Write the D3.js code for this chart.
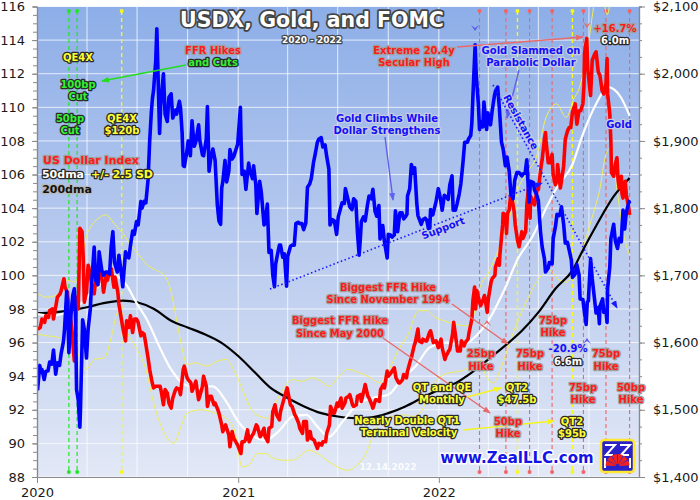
<!DOCTYPE html>
<html>
<head>
<meta charset="utf-8">
<script src="https://cdn.jsdelivr.net/npm/d3@7"></script>
<style>
  body { margin: 0; background: #fff; }
  svg text { font-family: "DejaVu Sans", Verdana, sans-serif; }
  .lbl { font-weight: bold; paint-order: stroke; stroke-linejoin: round; text-anchor: middle; }
</style>
</head>
<body>
<svg id="chart" width="700" height="500"></svg>
<script>
// ---- data ----
var usdx = [
 ["2020-01-02",96.8],["2020-01-07",96.9],["2020-01-10",97.4],["2020-01-15",97.2],["2020-01-17",97.6],["2020-01-22",97.5],
 ["2020-01-24",97.9],["2020-01-29",98.0],["2020-01-31",97.4],["2020-02-05",98.3],["2020-02-07",98.7],["2020-02-12",98.9],
 ["2020-02-14",99.1],["2020-02-19",99.8],["2020-02-21",99.3],["2020-02-25",99.0],["2020-02-28",98.1],["2020-03-03",97.2],
 ["2020-03-06",96.0],["2020-03-09",94.9],["2020-03-11",96.5],["2020-03-13",98.7],["2020-03-16",98.0],["2020-03-18",101.0],
 ["2020-03-19",102.8],["2020-03-23",102.6],["2020-03-25",101.1],["2020-03-27",98.4],["2020-03-31",99.0],["2020-04-03",100.6],
 ["2020-04-07",100.1],["2020-04-09",99.5],["2020-04-14",98.9],["2020-04-17",99.7],["2020-04-21",100.2],["2020-04-24",100.4],
 ["2020-04-29",99.6],["2020-05-01",99.0],["2020-05-06",100.0],["2020-05-08",99.7],["2020-05-13",100.3],["2020-05-15",100.4],
 ["2020-05-20",99.3],["2020-05-22",99.9],["2020-05-27",99.0],["2020-05-29",98.3],["2020-06-03",97.3],["2020-06-05",96.9],
 ["2020-06-10",96.1],["2020-06-12",97.3],["2020-06-16",96.9],["2020-06-19",97.6],["2020-06-23",96.6],["2020-06-26",97.4],
 ["2020-06-30",97.4],["2020-07-03",97.2],["2020-07-08",96.4],["2020-07-10",96.6],["2020-07-14",96.5],["2020-07-17",95.9],
 ["2020-07-21",95.1],["2020-07-24",94.4],["2020-07-28",93.7],["2020-07-31",93.3],["2020-08-04",93.4],["2020-08-07",93.4],
 ["2020-08-12",93.4],["2020-08-14",93.1],["2020-08-18",92.3],["2020-08-21",93.2],["2020-08-25",93.0],["2020-08-28",92.4],
 ["2020-09-01",92.1],["2020-09-04",92.7],["2020-09-09",93.2],["2020-09-11",93.3],["2020-09-16",93.2],["2020-09-18",92.9],
 ["2020-09-23",94.4],["2020-09-25",94.6],["2020-09-30",93.9],["2020-10-02",93.8],["2020-10-07",93.6],["2020-10-09",93.1],
 ["2020-10-14",93.5],["2020-10-16",93.7],["2020-10-21",92.6],["2020-10-23",92.8],["2020-10-28",93.4],["2020-10-30",94.0],
 ["2020-11-04",93.4],["2020-11-06",92.2],["2020-11-10",92.8],["2020-11-13",92.8],["2020-11-18",92.3],["2020-11-20",92.4],
 ["2020-11-25",92.0],["2020-11-27",91.8],["2020-12-02",91.1],["2020-12-04",90.7],["2020-12-09",91.1],["2020-12-11",90.9],
 ["2020-12-15",90.5],["2020-12-17",89.8],["2020-12-21",90.7],["2020-12-24",90.3],["2020-12-31",89.9],["2021-01-06",89.4],
 ["2021-01-08",90.1],["2021-01-12",90.1],["2021-01-14",90.2],["2021-01-18",90.8],["2021-01-21",90.1],["2021-01-25",90.4],
 ["2021-01-29",90.6],["2021-02-03",91.1],["2021-02-05",91.0],["2021-02-10",90.4],["2021-02-12",90.5],["2021-02-17",90.9],
 ["2021-02-19",90.4],["2021-02-24",90.1],["2021-02-26",90.9],["2021-03-03",91.0],["2021-03-05",91.9],["2021-03-09",92.3],
 ["2021-03-12",91.7],["2021-03-17",91.4],["2021-03-19",91.9],["2021-03-24",92.5],["2021-03-31",93.3],["2021-04-06",92.3],
 ["2021-04-09",92.2],["2021-04-14",91.7],["2021-04-16",91.6],["2021-04-21",91.2],["2021-04-23",90.9],["2021-04-28",90.6],
 ["2021-04-30",91.3],["2021-05-05",91.3],["2021-05-07",90.2],["2021-05-12",90.7],["2021-05-14",90.3],["2021-05-19",90.2],
 ["2021-05-25",89.7],["2021-05-28",90.0],["2021-06-02",89.9],["2021-06-04",90.1],["2021-06-09",90.1],["2021-06-11",90.6],
 ["2021-06-16",91.1],["2021-06-18",92.2],["2021-06-23",91.8],["2021-06-25",91.8],["2021-06-30",92.4],["2021-07-02",92.2],
 ["2021-07-07",92.7],["2021-07-09",92.1],["2021-07-14",92.4],["2021-07-16",92.7],["2021-07-21",92.8],["2021-07-23",92.9],
 ["2021-07-28",92.3],["2021-07-30",92.2],["2021-08-04",92.3],["2021-08-06",92.8],["2021-08-11",92.9],["2021-08-13",92.5],
 ["2021-08-18",93.2],["2021-08-20",93.5],["2021-08-25",92.8],["2021-08-27",92.7],["2021-09-01",92.3],["2021-09-03",92.1],
 ["2021-09-08",92.6],["2021-09-10",92.6],["2021-09-15",92.5],["2021-09-17",93.2],["2021-09-22",93.5],["2021-09-24",93.3],
 ["2021-09-29",94.3],["2021-10-01",94.0],["2021-10-06",94.2],["2021-10-12",94.5],["2021-10-15",93.9],["2021-10-20",93.6],
 ["2021-10-22",93.6],["2021-10-27",93.8],["2021-10-29",94.1],["2021-11-03",93.9],["2021-11-05",94.3],["2021-11-10",94.9],
 ["2021-11-12",95.1],["2021-11-17",95.8],["2021-11-19",96.0],["2021-11-24",96.8],["2021-11-26",96.1],["2021-12-01",96.0],
 ["2021-12-03",96.2],["2021-12-08",96.1],["2021-12-10",96.1],["2021-12-15",96.6],["2021-12-17",96.7],["2021-12-22",96.0],
 ["2021-12-27",96.1],["2021-12-31",95.7],["2022-01-05",96.2],["2022-01-07",95.7],["2022-01-12",95.0],["2022-01-14",95.2],
 ["2022-01-19",95.5],["2022-01-21",95.6],["2022-01-26",96.5],["2022-01-28",97.2],["2022-02-02",96.0],["2022-02-04",95.5],
 ["2022-02-09",95.5],["2022-02-11",96.1],["2022-02-16",95.8],["2022-02-18",96.0],["2022-02-23",96.2],["2022-02-25",96.6],
 ["2022-03-02",97.4],["2022-03-04",98.5],["2022-03-07",99.3],["2022-03-09",98.0],["2022-03-11",99.1],["2022-03-16",98.4],
 ["2022-03-18",98.2],["2022-03-23",98.6],["2022-03-25",98.8],["2022-03-30",97.8],["2022-04-01",98.6],["2022-04-06",99.6],
 ["2022-04-08",99.8],["2022-04-13",100.0],["2022-04-14",100.5],["2022-04-19",101.0],["2022-04-21",100.6],["2022-04-22",101.2],
 ["2022-04-27",103.0],["2022-04-28",103.7],["2022-05-03",103.5],["2022-05-04",102.5],["2022-05-06",103.7],["2022-05-09",103.9],
 ["2022-05-12",104.9],["2022-05-16",104.2],["2022-05-18",103.8],["2022-05-20",103.0],["2022-05-24",102.1],["2022-05-27",101.7],
 ["2022-06-01",102.6],["2022-06-03",102.2],["2022-06-08",102.6],["2022-06-10",104.2],["2022-06-14",105.5],["2022-06-16",103.4],
 ["2022-06-17",104.7],["2022-06-22",104.3],["2022-06-24",104.2],["2022-06-29",105.1],["2022-07-01",105.1],["2022-07-06",106.5],
 ["2022-07-08",106.9],["2022-07-12",108.1],["2022-07-14",108.5],["2022-07-15",108.0],["2022-07-19",106.7],["2022-07-22",106.7],
 ["2022-07-26",107.2],["2022-07-28",106.0],["2022-08-01",105.4],["2022-08-04",105.7],["2022-08-05",106.6],["2022-08-10",105.2],
 ["2022-08-12",105.6],["2022-08-16",106.5],["2022-08-19",108.1],["2022-08-23",108.6],["2022-08-26",108.8],["2022-08-29",108.8],
 ["2022-09-01",109.7],["2022-09-06",110.2],["2022-09-09",109.0],["2022-09-13",109.8],["2022-09-16",109.8],["2022-09-20",110.2],
 ["2022-09-22",111.3],["2022-09-23",113.2],["2022-09-27",114.1],["2022-09-29",112.2],["2022-10-04",110.7],["2022-10-07",112.8],
 ["2022-10-12",113.2],["2022-10-14",113.3],["2022-10-18",112.1],["2022-10-21",111.9],["2022-10-25",111.0],["2022-10-28",110.8],
 ["2022-11-01",111.4],["2022-11-03",112.9],["2022-11-04",110.8],["2022-11-08",109.6],["2022-11-10",107.9],["2022-11-11",106.1],
 ["2022-11-15",105.9],["2022-11-18",106.6],["2022-11-21",107.0],["2022-11-23",105.7],["2022-11-25",105.2],["2022-11-29",105.9],
 ["2022-11-30",104.9],["2022-12-02",104.6],["2022-12-06",105.6],["2022-12-08",104.8],["2022-12-13",103.9],["2022-12-14",103.6]
];

var gold = [
 ["2020-01-02",1529],["2020-01-06",1566],["2020-01-08",1556],["2020-01-10",1560],["2020-01-14",1545],["2020-01-17",1557],
 ["2020-01-21",1558],["2020-01-24",1571],["2020-01-28",1568],["2020-01-31",1589],["2020-02-04",1553],["2020-02-07",1570],
 ["2020-02-11",1566],["2020-02-14",1584],["2020-02-18",1601],["2020-02-20",1619],["2020-02-24",1676],["2020-02-26",1641],
 ["2020-02-28",1585],["2020-03-03",1643],["2020-03-06",1670],["2020-03-09",1680],["2020-03-11",1638],["2020-03-13",1530],
 ["2020-03-16",1515],["2020-03-19",1474],["2020-03-20",1498],["2020-03-24",1634],["2020-03-27",1620],["2020-03-31",1577],
 ["2020-04-03",1620],["2020-04-07",1650],["2020-04-09",1683],["2020-04-14",1742],["2020-04-17",1692],["2020-04-21",1686],
 ["2020-04-23",1735],["2020-04-28",1707],["2020-05-01",1700],["2020-05-05",1705],["2020-05-08",1705],["2020-05-12",1702],
 ["2020-05-15",1743],["2020-05-18",1765],["2020-05-21",1719],["2020-05-26",1705],["2020-05-29",1730],["2020-06-03",1699],
 ["2020-06-05",1683],["2020-06-10",1735],["2020-06-12",1730],["2020-06-16",1726],["2020-06-19",1744],["2020-06-23",1766],
 ["2020-06-26",1761],["2020-06-30",1780],["2020-07-03",1775],["2020-07-08",1810],["2020-07-10",1800],["2020-07-14",1810],
 ["2020-07-17",1808],["2020-07-21",1842],["2020-07-24",1900],["2020-07-27",1943],["2020-07-29",1963],["2020-07-31",1975],
 ["2020-08-04",2019],["2020-08-06",2067],["2020-08-07",2035],["2020-08-11",1911],["2020-08-13",1953],["2020-08-18",2000],
 ["2020-08-21",1940],["2020-08-25",1929],["2020-08-28",1965],["2020-09-01",1970],["2020-09-04",1934],["2020-09-09",1946],
 ["2020-09-11",1940],["2020-09-16",1959],["2020-09-18",1950],["2020-09-21",1912],["2020-09-23",1863],["2020-09-25",1862],
 ["2020-09-30",1886],["2020-10-02",1900],["2020-10-06",1878],["2020-10-09",1930],["2020-10-13",1892],["2020-10-16",1899],
 ["2020-10-21",1924],["2020-10-23",1902],["2020-10-28",1879],["2020-10-30",1878],["2020-11-04",1903],["2020-11-06",1951],
 ["2020-11-09",1855],["2020-11-12",1873],["2020-11-16",1888],["2020-11-20",1871],["2020-11-24",1805],["2020-11-27",1781],
 ["2020-11-30",1776],["2020-12-02",1830],["2020-12-04",1839],["2020-12-08",1871],["2020-12-11",1839],["2020-12-15",1855],
 ["2020-12-17",1887],["2020-12-21",1873],["2020-12-24",1877],["2020-12-31",1895],["2021-01-05",1950],["2021-01-06",1908],
 ["2021-01-08",1850],["2021-01-12",1855],["2021-01-15",1828],["2021-01-20",1867],["2021-01-22",1856],["2021-01-27",1844],
 ["2021-01-29",1863],["2021-02-02",1835],["2021-02-04",1792],["2021-02-09",1840],["2021-02-12",1824],["2021-02-17",1775],
 ["2021-02-19",1777],["2021-02-23",1806],["2021-02-26",1734],["2021-03-02",1737],["2021-03-05",1700],["2021-03-08",1683],
 ["2021-03-10",1716],["2021-03-12",1725],["2021-03-17",1745],["2021-03-19",1745],["2021-03-23",1727],["2021-03-26",1732],
 ["2021-03-30",1684],["2021-04-01",1728],["2021-04-06",1743],["2021-04-09",1745],["2021-04-13",1745],["2021-04-16",1777],
 ["2021-04-20",1779],["2021-04-23",1777],["2021-04-27",1777],["2021-04-30",1768],["2021-05-04",1778],["2021-05-07",1831],
 ["2021-05-11",1836],["2021-05-14",1844],["2021-05-18",1868],["2021-05-21",1880],["2021-05-25",1898],["2021-05-28",1903],
 ["2021-06-01",1905],["2021-06-04",1891],["2021-06-08",1894],["2021-06-11",1877],["2021-06-15",1858],["2021-06-17",1775],
 ["2021-06-21",1783],["2021-06-25",1781],["2021-06-29",1761],["2021-07-02",1787],["2021-07-07",1802],["2021-07-09",1808],
 ["2021-07-13",1807],["2021-07-15",1829],["2021-07-20",1812],["2021-07-23",1802],["2021-07-27",1798],["2021-07-30",1814],
 ["2021-08-03",1810],["2021-08-06",1763],["2021-08-09",1730],["2021-08-11",1752],["2021-08-13",1780],["2021-08-17",1787],
 ["2021-08-20",1781],["2021-08-24",1804],["2021-08-27",1818],["2021-08-31",1814],["2021-09-03",1828],["2021-09-07",1795],
 ["2021-09-10",1788],["2021-09-14",1804],["2021-09-16",1754],["2021-09-21",1774],["2021-09-24",1750],["2021-09-29",1726],
 ["2021-10-01",1761],["2021-10-05",1760],["2021-10-08",1757],["2021-10-12",1760],["2021-10-14",1796],["2021-10-18",1765],
 ["2021-10-22",1793],["2021-10-26",1793],["2021-10-29",1784],["2021-11-02",1788],["2021-11-04",1791],["2021-11-05",1818],
 ["2021-11-09",1829],["2021-11-12",1865],["2021-11-16",1852],["2021-11-18",1860],["2021-11-22",1806],["2021-11-24",1789],
 ["2021-11-30",1776],["2021-12-03",1783],["2021-12-07",1785],["2021-12-10",1782],["2021-12-15",1763],["2021-12-17",1798],
 ["2021-12-21",1790],["2021-12-27",1810],["2021-12-31",1829],["2022-01-04",1814],["2022-01-07",1797],["2022-01-11",1819],
 ["2022-01-14",1817],["2022-01-18",1813],["2022-01-21",1835],["2022-01-25",1848],["2022-01-27",1797],["2022-01-31",1797],
 ["2022-02-03",1806],["2022-02-07",1821],["2022-02-10",1836],["2022-02-14",1869],["2022-02-17",1898],["2022-02-22",1898],
 ["2022-02-24",1903],["2022-02-28",1908],["2022-03-02",1926],["2022-03-04",1967],["2022-03-08",2043],["2022-03-10",1998],
 ["2022-03-14",1954],["2022-03-16",1917],["2022-03-18",1929],["2022-03-22",1921],["2022-03-24",1958],["2022-03-29",1917],
 ["2022-03-31",1942],["2022-04-05",1924],["2022-04-08",1945],["2022-04-12",1967],["2022-04-14",1974],["2022-04-18",1980],
 ["2022-04-21",1950],["2022-04-25",1898],["2022-04-28",1888],["2022-05-02",1863],["2022-05-05",1876],["2022-05-09",1855],
 ["2022-05-12",1822],["2022-05-16",1814],["2022-05-19",1841],["2022-05-23",1853],["2022-05-27",1853],["2022-06-01",1848],
 ["2022-06-03",1851],["2022-06-07",1852],["2022-06-10",1872],["2022-06-14",1809],["2022-06-17",1840],["2022-06-22",1838],
 ["2022-06-24",1827],["2022-06-28",1820],["2022-07-01",1811],["2022-07-05",1764],["2022-07-08",1742],["2022-07-12",1725],
 ["2022-07-14",1705],["2022-07-19",1711],["2022-07-21",1719],["2022-07-26",1717],["2022-07-28",1755],["2022-08-01",1772],
 ["2022-08-04",1791],["2022-08-08",1789],["2022-08-10",1793],["2022-08-12",1802],["2022-08-16",1776],["2022-08-19",1748],
 ["2022-08-23",1749],["2022-08-26",1738],["2022-08-30",1723],["2022-09-01",1697],["2022-09-06",1702],["2022-09-09",1716],
 ["2022-09-13",1701],["2022-09-15",1665],["2022-09-20",1664],["2022-09-23",1644],["2022-09-26",1627],["2022-09-28",1660],
 ["2022-09-30",1662],["2022-10-04",1725],["2022-10-07",1695],["2022-10-11",1666],["2022-10-14",1644],["2022-10-18",1652],
 ["2022-10-20",1628],["2022-10-21",1654],["2022-10-26",1665],["2022-10-28",1645],["2022-11-01",1648],["2022-11-03",1630],
 ["2022-11-04",1681],["2022-11-08",1713],["2022-11-10",1755],["2022-11-15",1776],["2022-11-18",1751],["2022-11-22",1740],
 ["2022-11-25",1755],["2022-11-29",1750],["2022-11-30",1768],["2022-12-02",1797],["2022-12-05",1769],["2022-12-07",1786],
 ["2022-12-09",1797],["2022-12-13",1810],["2022-12-14",1807]
];

var usdx50 = [
 ["2020-01-02",97.7],["2020-02-01",97.6],["2020-03-01",97.9],["2020-03-20",98.3],["2020-04-10",99.0],["2020-05-01",99.6],
 ["2020-05-20",100.0],["2020-06-10",99.5],["2020-07-01",98.3],["2020-07-20",97.3],["2020-08-10",95.8],["2020-09-01",94.4],
 ["2020-09-25",93.5],["2020-10-20",93.3],["2020-11-15",93.4],["2020-12-10",92.5],["2021-01-01",91.3],["2021-01-25",90.5],
 ["2021-02-20",90.2],["2021-03-15",90.7],["2021-04-10",91.6],["2021-05-05",91.7],["2021-05-25",91.0],["2021-06-15",90.4],
 ["2021-07-10",91.3],["2021-08-05",92.3],["2021-09-01",92.7],["2021-10-01",92.9],["2021-10-25",93.8],["2021-11-20",94.6],
 ["2021-12-15",95.7],["2022-01-15",96.0],["2022-02-15",95.9],["2022-03-10",96.4],["2022-04-01",97.3],["2022-05-01",99.2],
 ["2022-05-25",101.0],["2022-06-20",102.3],["2022-07-15",104.0],["2022-08-05",105.3],["2022-09-01",106.6],["2022-09-20",108.4],
 ["2022-10-14",110.2],["2022-11-05",111.2],["2022-11-28",110.6],["2022-12-14",109.5]
];

var usdx200 = [
 ["2020-01-02",97.75],["2020-02-01",97.8],["2020-03-01",97.9],["2020-04-01",98.1],["2020-05-01",98.35],["2020-06-05",98.5],
 ["2020-07-01",98.4],["2020-08-01",98.0],["2020-09-01",97.3],["2020-10-01",96.9],["2020-11-01",96.5],["2020-12-01",96.0],
 ["2021-01-01",95.2],["2021-02-01",94.2],["2021-03-01",93.3],["2021-04-01",92.7],["2021-05-01",92.2],["2021-06-01",91.8],
 ["2021-07-01",91.6],["2021-08-01",91.5],["2021-09-01",91.55],["2021-10-01",91.8],["2021-11-01",92.2],["2021-12-01",92.7],
 ["2022-01-01",93.2],["2022-02-01",93.6],["2022-03-01",94.2],["2022-04-01",95.0],["2022-05-01",95.8],["2022-06-01",96.7],
 ["2022-07-01",97.8],["2022-08-01",99.2],["2022-09-01",100.3],["2022-09-20",101.5],["2022-10-15",103.0],["2022-11-15",104.7],
 ["2022-12-14",105.8]
];

var upperBand = [
 ["2020-01-02",98.9],["2020-01-20",98.7],["2020-02-10",98.9],["2020-02-25",99.7],["2020-03-10",99.6],["2020-03-20",100.5],
 ["2020-03-30",102.2],["2020-04-10",103.0],["2020-04-22",103.4],["2020-05-05",103.6],["2020-05-20",103.1],["2020-06-05",102.5],
 ["2020-06-20",101.8],["2020-07-05",101.2],["2020-07-20",100.6],["2020-08-05",100.3],["2020-08-20",100.0],["2020-09-01",99.0],
 ["2020-09-10",97.5],["2020-09-20",95.8],["2020-09-30",94.7],["2020-10-15",94.8],["2020-11-05",94.6],["2020-11-25",94.9],
 ["2020-12-10",95.0],["2020-12-25",94.3],["2021-01-10",93.1],["2021-01-25",92.0],["2021-02-10",91.6],["2021-02-25",91.5],
 ["2021-03-10",92.4],["2021-03-25",93.3],["2021-04-10",93.8],["2021-04-28",93.7],["2021-05-15",93.9],["2021-06-01",93.7],
 ["2021-06-15",93.4],["2021-07-01",93.9],["2021-07-20",94.4],["2021-08-10",94.2],["2021-08-30",93.9],["2021-09-15",93.6],
 ["2021-10-01",94.3],["2021-10-20",95.6],["2021-11-05",96.4],["2021-11-25",97.9],["2021-12-10",97.9],["2021-12-25",97.5],
 ["2022-01-10",97.3],["2022-01-31",97.1],["2022-02-20",97.0],["2022-03-05",97.6],["2022-03-16",99.2],["2022-04-02",100.2],
 ["2022-04-20",101.6],["2022-05-08",103.3],["2022-05-27",105.3],["2022-06-12",106.2],["2022-06-27",107.0],["2022-07-15",109.4],
 ["2022-08-03",110.2],["2022-08-21",109.4],["2022-09-02",110.4],["2022-09-14",111.2],["2022-09-24",112.6],["2022-10-01",114.0],
 ["2022-10-12",116.4],["2022-10-20",117.0],["2022-10-28",116.3],["2022-11-03",115.5],["2022-11-12",116.8],["2022-11-25",118.0],
 ["2022-12-14",118.5]
];

var lowerBand = [
 ["2020-01-02",96.5],["2020-01-20",96.4],["2020-02-10",96.3],["2020-02-25",96.0],["2020-03-10",95.7],["2020-03-20",95.0],
 ["2020-03-30",94.4],["2020-04-15",95.0],["2020-05-03",95.1],["2020-05-15",96.3],["2020-05-27",97.8],["2020-06-05",97.3],
 ["2020-06-13",96.6],["2020-07-01",95.6],["2020-07-17",94.4],["2020-08-01",92.3],["2020-08-20",90.6],["2020-09-06",90.0],
 ["2020-09-18",90.9],["2020-09-30",91.8],["2020-10-25",92.0],["2020-11-20",91.8],["2020-12-10",91.5],["2020-12-25",90.8],
 ["2021-01-08",88.6],["2021-01-20",88.7],["2021-02-05",89.4],["2021-02-20",89.4],["2021-03-07",89.1],["2021-03-25",89.0],
 ["2021-04-10",89.0],["2021-05-10",89.6],["2021-05-25",89.4],["2021-06-20",88.8],["2021-07-20",88.4],["2021-08-05",88.7],
 ["2021-08-20",89.3],["2021-09-05",90.6],["2021-09-20",91.4],["2021-10-10",91.6],["2021-10-30",91.7],["2021-11-15",91.6],
 ["2021-11-30",91.9],["2021-12-15",93.0],["2022-01-01",93.9],["2022-01-20",94.2],["2022-02-10",94.3],["2022-03-01",94.6],
 ["2022-03-16",95.0],["2022-03-28",94.0],["2022-04-10",93.6],["2022-04-25",94.6],["2022-05-10",96.0],["2022-05-25",97.3],
 ["2022-06-10",98.5],["2022-07-04",99.9],["2022-07-22",100.3],["2022-08-05",99.8],["2022-08-21",99.6],["2022-09-05",100.4],
 ["2022-09-20",101.6],["2022-09-30",102.7],["2022-10-10",103.8],["2022-10-20",105.0],["2022-11-01",107.2],["2022-11-10",107.6],
 ["2022-11-20",105.4],["2022-12-01",102.8],["2022-12-14",101.2]
];

// FOMC and QE events
var cutDates = ["2020-02-28", "2020-03-14"];
var qeDates = ["2020-06-03", "2022-05-24", "2022-09-01"];
var hikeDates = ["2022-03-16", "2022-05-03", "2022-06-15", "2022-07-26", "2022-09-21", "2022-11-01", "2022-12-14"];

var leftTicks = d3.range(88, 117, 2);
var rightTicks = d3.range(1400, 2101, 100);
var yearTicks = ["2020-01-01", "2021-01-01", "2022-01-01"];

// ---- chart ----
var parse = d3.timeParse("%Y-%m-%d");
function pts(arr) { return arr.map(function(d) { return {date: parse(d[0]), v: d[1]}; }); }

var L = 37, R = 639, T = 6.5, B = 477;
var svg = d3.select("#chart");
var x = d3.scaleTime().domain([parse("2020-01-01"), parse("2023-01-01")]).range([L, R + 0.5]);
var yL = d3.scaleLinear().domain([88, 116]).range([B, T]);
var yR = d3.scaleLinear().domain([1400, 2100]).range([B, T]);

var defs = svg.append("defs");
var grad = defs.append("linearGradient").attr("id", "bg").attr("x1", 0).attr("y1", 0).attr("x2", 0).attr("y2", 1);
grad.append("stop").attr("offset", "0%").attr("stop-color", "#8daee8");
grad.append("stop").attr("offset", "50%").attr("stop-color", "#b8caee");
grad.append("stop").attr("offset", "100%").attr("stop-color", "#e2e8f6");
defs.append("clipPath").attr("id", "plot").append("rect")
  .attr("x", L).attr("y", T).attr("width", R - L).attr("height", B - T);

function arrowMarker(id, color) {
  defs.append("marker").attr("id", id).attr("viewBox", "0 0 8 6")
    .attr("refX", 7).attr("refY", 3).attr("markerWidth", 8).attr("markerHeight", 6)
    .attr("markerUnits", "userSpaceOnUse").attr("orient", "auto")
    .append("path").attr("d", "M0,0 L8,3 L0,6 Z").attr("fill", color);
}
arrowMarker("aGreen", "#22dd22");
arrowMarker("aRed", "#e86a6a");
arrowMarker("aBlue", "#6060f0");
arrowMarker("aBlueD", "#1a1aff");
arrowMarker("aYellow", "#f4f420");

svg.append("rect").attr("x", L).attr("y", T).attr("width", R - L).attr("height", B - T).attr("fill", "url(#bg)");

// grid
var grid = svg.append("g").attr("stroke", "#ffffff").attr("stroke-opacity", 0.75).attr("stroke-width", 1);
grid.selectAll("line.h").data(leftTicks).enter().append("line")
  .attr("x1", L).attr("x2", R).attr("y1", function(d) { return yL(d); }).attr("y2", function(d) { return yL(d); });
var quarters = d3.timeMonth.every(3).range(parse("2020-04-01"), parse("2023-01-01"));
grid.selectAll("line.v").data(quarters).enter().append("line")
  .attr("y1", T).attr("y2", B).attr("x1", function(d) { return x(d); }).attr("x2", function(d) { return x(d); });

// event lines
function eventLines(dates, color, width) {
  var g = svg.append("g");
  dates.forEach(function(ds) {
    var xx = x(parse(ds));
    g.append("line").attr("x1", xx).attr("x2", xx).attr("y1", 11).attr("y2", 472)
      .attr("stroke", color).attr("stroke-width", width).attr("stroke-dasharray", "4,3");
    g.append("circle").attr("cx", xx).attr("cy", 11).attr("r", 2).attr("fill", color);
    g.append("circle").attr("cx", xx).attr("cy", 472).attr("r", 2).attr("fill", color);
  });
}
eventLines(hikeDates, "#f26464", 1.1);
eventLines(cutDates, "#22e822", 1.2);
eventLines(qeDates, "#f8f820", 1.4);

// series
var plot = svg.append("g").attr("clip-path", "url(#plot)");
var lineL = d3.line().x(function(d) { return x(d.date); }).y(function(d) { return yL(d.v); });
var smoothL = d3.line().curve(d3.curveMonotoneX).x(function(d) { return x(d.date); }).y(function(d) { return yL(d.v); });
var lineR = d3.line().x(function(d) { return x(d.date); }).y(function(d) { return yR(d.v); });

plot.append("path").datum(pts(upperBand)).attr("d", smoothL).attr("fill", "none").attr("stroke", "#f0ee5a").attr("stroke-width", 1);
plot.append("path").datum(pts(lowerBand)).attr("d", smoothL).attr("fill", "none").attr("stroke", "#f0ee5a").attr("stroke-width", 1);
plot.append("path").datum(pts(usdx200)).attr("d", smoothL).attr("fill", "none").attr("stroke", "#000").attr("stroke-width", 2.2);
plot.append("path").datum(pts(usdx50)).attr("d", smoothL).attr("fill", "none").attr("stroke", "#fff").attr("stroke-width", 2.2);
plot.append("path").datum(pts(usdx)).attr("d", lineL).attr("fill", "none").attr("stroke", "#ff0000")
  .attr("stroke-width", 3.6).attr("stroke-linejoin", "round");
plot.append("path").datum(pts(gold)).attr("d", lineR).attr("fill", "none").attr("stroke", "#0000ff")
  .attr("stroke-width", 3.6).attr("stroke-linejoin", "round");

// axes
function styleAxis(g) {
  g.select(".domain").attr("stroke", "#8a8a8a").attr("stroke-width", 1.2);
  g.selectAll(".tick line").attr("stroke", "#8a8a8a");
  g.selectAll("text").attr("font-family", "DejaVu Sans, Verdana, sans-serif").attr("font-size", 13).attr("fill", "#1a1a1a");
}
var minorL = svg.append("g").attr("transform", "translate(" + L + ",0)")
  .call(d3.axisLeft(yL).tickValues(d3.range(88, 116.01, 0.5)).tickSize(4).tickFormat(""));
styleAxis(minorL);
var axL = svg.append("g").attr("transform", "translate(" + L + ",0)")
  .call(d3.axisLeft(yL).tickValues(leftTicks).tickSize(5).tickPadding(7).tickSizeOuter(0));
styleAxis(axL);
var minorR = svg.append("g").attr("transform", "translate(" + R + ",0)")
  .call(d3.axisRight(yR).tickValues(d3.range(1400, 2100.01, 25)).tickSize(3).tickFormat(""));
styleAxis(minorR);
var axR = svg.append("g").attr("transform", "translate(" + R + ",0)")
  .call(d3.axisRight(yR).tickValues(rightTicks).tickSize(6).tickPadding(8).tickSizeOuter(0)
    .tickFormat(function(d) { return "$" + d3.format(",")(d); }));
styleAxis(axR);
var axB = svg.append("g").attr("transform", "translate(0," + B + ")")
  .call(d3.axisBottom(x).tickValues(yearTicks.map(parse)).tickSize(6).tickPadding(5).tickSizeOuter(0)
    .tickFormat(d3.timeFormat("%Y")));
styleAxis(axB);

// trend lines
function dotted(x1, y1, x2, y2) {
  svg.append("line").attr("x1", x1).attr("y1", y1).attr("x2", x2).attr("y2", y2)
    .attr("stroke", "#1a1aff").attr("stroke-width", 1.6).attr("stroke-dasharray", "1.5,2.5")
    .attr("marker-end", "url(#aBlueD)");
}
dotted(270, 289, 542, 183);
dotted(493, 85, 617, 308);

// annotation arrows
function arrow(x1, y1, x2, y2, color, marker) {
  svg.append("line").attr("x1", x1).attr("y1", y1).attr("x2", x2).attr("y2", y2)
    .attr("stroke", color).attr("stroke-width", 1.4).attr("marker-end", "url(#" + marker + ")");
}
arrow(186, 65, 102, 81, "#22dd22", "aGreen");
arrow(457, 47, 583, 37, "#e86a6a", "aRed");
arrow(519, 70, 507, 118, "#6060f0", "aBlue");
arrow(385, 137, 393, 200, "#6060f0", "aBlue");
arrow(452, 304, 508, 344, "#e86a6a", "aRed");
arrow(383, 338, 490, 413, "#e86a6a", "aRed");
arrow(467, 397, 501, 388, "#f4f420", "aYellow");
arrow(463, 430, 554, 421, "#f4f420", "aYellow");

// peak / trough markers
function chevron(cx, cy, color, up) {
  var s = up ? -1 : 1;
  svg.append("path").attr("d", "M" + (cx - 4) + "," + (cy - 5 * s) + " L" + cx + "," + (cy + 1 * s) +
    " L" + (cx + 4) + "," + (cy - 5 * s) + " L" + cx + "," + (cy - 2 * s) + " Z").attr("fill", color);
}
chevron(475, 30, "#5a5aee", false);
chevron(587, 27, "#e86a6a", false);
chevron(487, 321, "#e86a6a", true);
chevron(587, 339, "#5a5aee", true);

// text labels
var styles = {
  red:    {fill: "#ff1a1a", stroke: "#a0a0a0"},
  blue:   {fill: "#1010ff", stroke: "#c8cce0"},
  green:  {fill: "#33f033", stroke: "#2a2a2a"},
  yellow: {fill: "#ffff30", stroke: "#2a2a2a"},
  white:  {fill: "#ffffff", stroke: "#2a2a2a"},
  black:  {fill: "#111111", stroke: "#b8b8b8"}
};
function label(cx, cy, txt, kind, size) {
  var st = styles[kind];
  svg.append("text").attr("class", "lbl").attr("x", cx).attr("y", cy).attr("dy", "0.36em")
    .attr("font-size", size || 10).attr("fill", st.fill).attr("stroke", st.stroke).attr("stroke-width", 2.6)
    .text(txt);
}
var labels = [
  [78, 57, "QE4X", "yellow"], [78, 84, "100bp", "green"], [78, 96, "Cut", "green"],
  [70, 118, "50bp", "green"], [70, 130, "Cut", "green"], [122, 118, "QE4X", "yellow"], [122, 130, "$120b", "yellow"],
  [213, 50, "FFR Hikes", "red"], [213, 62, "and Cuts", "green"],
  [414, 50, "Extreme 20.4y", "red"], [414, 62, "Secular High", "red"],
  [531, 50, "Gold Slammed on", "blue"], [531, 62, "Parabolic Dollar", "blue"],
  [615, 28, "+16.7%", "red"], [615, 40, "6.0m", "white"],
  [387, 118, "Gold Climbs While", "blue"], [387, 130, "Dollar Strengthens", "blue"],
  [619, 124, "Gold", "blue"],
  [388, 287, "Biggest FFR Hike", "red"], [388, 299, "Since November 1994", "red"],
  [340, 320, "Biggest FFR Hike", "red"], [340, 333, "Since May 2000", "red"],
  [481, 353, "25bp", "red"], [481, 366, "Hike", "red"],
  [530, 353, "75bp", "red"], [530, 366, "Hike", "red"],
  [553, 320, "75bp", "red"], [553, 332, "Hike", "red"],
  [568, 348, "-20.9%", "blue"], [568, 361, "6.6m", "white"],
  [606, 353, "75bp", "red"], [606, 366, "Hike", "red"],
  [583, 387, "75bp", "red"], [583, 399, "Hike", "red"],
  [631, 387, "50bp", "red"], [631, 399, "Hike", "red"],
  [442, 387, "QT and QE", "yellow"], [442, 399, "Monthly", "yellow"],
  [517, 387, "QT2", "yellow"], [517, 399, "$47.5b", "yellow"],
  [508, 421, "50bp", "red"], [508, 433, "Hike", "red"],
  [407, 420, "Nearly Double QT1", "yellow"], [409, 432, "Terminal Velocity", "yellow"],
  [572, 421, "QT2", "yellow"], [572, 433, "$95b", "yellow"]
];
labels.forEach(function(l) { label(l[0], l[1], l[2], l[3]); });

// legend
label(91, 160, "US Dollar Index", "red", 11);
label(63, 174, "50dma", "white", 11);
label(122, 174, "+/- 2.5 SD", "yellow", 11);
label(67, 189, "200dma", "black", 11);

// rotated trend labels
svg.append("text").attr("class", "lbl").attr("transform", "translate(521,122) rotate(61)").attr("dy", "0.36em")
  .attr("font-size", 10).attr("fill", "#1010ff").attr("stroke", "#c8cce0").attr("stroke-width", 2.6).text("Resistance");
svg.append("text").attr("class", "lbl").attr("transform", "translate(443,228) rotate(-21)").attr("dy", "0.36em")
  .attr("font-size", 10).attr("fill", "#1010ff").attr("stroke", "#c8cce0").attr("stroke-width", 2.6).text("Support");

// title
svg.append("text").attr("class", "lbl").attr("x", 312).attr("y", 27).attr("font-size", 20.5)
  .attr("fill", "#fff").attr("stroke", "#444").attr("stroke-width", 3.5).text("USDX, Gold, and FOMC");
svg.append("text").attr("class", "lbl").attr("x", 312).attr("y", 43).attr("font-size", 9)
  .attr("fill", "#fff").attr("stroke", "#444").attr("stroke-width", 2.5).text("2020 - 2022");

// footer
svg.append("text").attr("class", "lbl").attr("x", 388).attr("y", 470).attr("font-size", 9)
  .attr("fill", "#ffffff").attr("fill-opacity", 0.9).text("12.14.2022");
svg.append("text").attr("class", "lbl").attr("x", 517).attr("y", 463).attr("font-size", 15)
  .attr("fill", "#1414e6").attr("stroke", "#ffffff").attr("stroke-width", 3).text("www.ZealLLC.com");

// logo
var logo = svg.append("g");
logo.append("rect").attr("x", 601).attr("y", 440).attr("width", 33).attr("height", 32).attr("rx", 3)
  .attr("fill", "#2a22c8").attr("stroke", "#ffe830").attr("stroke-width", 2.5);
logo.append("path").attr("d", "M605,445 L615,445 L606,455 L613,455").attr("fill", "none").attr("stroke", "#fff").attr("stroke-width", 2);
logo.append("path").attr("d", "M620,445 L630,445 L621,455 L629,455").attr("fill", "none").attr("stroke", "#fff").attr("stroke-width", 2);
logo.append("path").attr("d", "M605,468 L605,458 M630,468 L630,458").attr("fill", "none").attr("stroke", "#fff").attr("stroke-width", 2);
var fan = d3.arc().innerRadius(2).outerRadius(12);
d3.range(6).forEach(function(i) {
  var a0 = -Math.PI / 2 + i * Math.PI / 6 + 0.03, a1 = a0 + Math.PI / 6 - 0.08;
  logo.append("path").attr("transform", "translate(617.5,466)")
    .attr("d", fan({startAngle: a0, endAngle: a1})).attr("fill", "#ee2222");
});
</script>
</body>
</html>
